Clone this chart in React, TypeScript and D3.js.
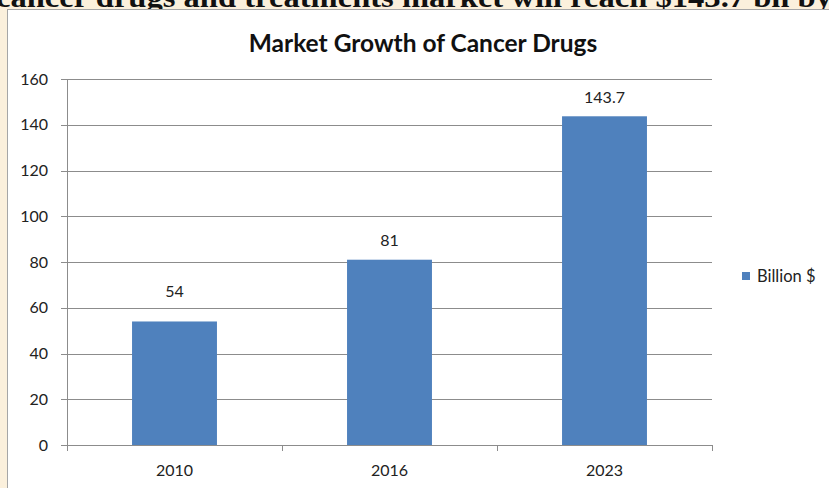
import React from "react";
import * as d3 from "d3";

const categories = ["2010", "2016", "2023"];
const values = [54, 81, 143.7];
const valueLabels = ["54", "81", "143.7"];
const yTicks = [0, 20, 40, 60, 80, 100, 120, 140, 160];
const seriesName = "Billion $";
const title = "Market Growth of Cancer Drugs";
const headline = "cancer drugs and treatments market will reach $143.7 bn by";

export default function App() {
  const W = 829, H = 488;
  const left = 67, right = 712, top = 79, bottom = 445;
  const x = d3.scaleBand<string>().domain(categories).range([left, right]).paddingInner(0.605).paddingOuter(0.3025);
  const y = d3.scaleLinear().domain([0, 160]).range([bottom, top]);
  const font = "Lato, 'Open Sans', sans-serif";
  const bw = 215;
  const tickXs = d3.range(categories.length + 1).map((i) => left + i * bw);
  const labelGap = [24, 14, 13];
  return (
    <svg width={W} height={H} style={{ position: "absolute", left: 0, top: 0 }} fontFamily={font}>
      <rect x={0} y={0} width={W} height={H} fill="#FBF0DC" />
      <text x={-4} y={7} fontFamily="'Liberation Serif', 'DejaVu Serif', serif" fontSize={29} fontWeight="bold" fill="#111" textLength={836} lengthAdjust="spacingAndGlyphs">{headline}</text>
      <rect x={7.5} y={9.5} width={W} height={H} fill="#FFFFFF" stroke="#A6A6A6" strokeWidth={1} />
      <text x={423} y={52} textAnchor="middle" fontSize={24.5} fontWeight="bold" fill="#111">{title}</text>
      {yTicks.map((t) => (
        <g key={t}>
          <line x1={left - 6} x2={right} y1={Math.round(y(t)) + 0.5} y2={Math.round(y(t)) + 0.5} stroke="#8C8C8C" strokeWidth={1} />
          <text x={48} y={y(t) + 5.5} textAnchor="end" fontSize={16} fill="#222">{t}</text>
        </g>
      ))}
      <line x1={left + 0.5} x2={left + 0.5} y1={top} y2={bottom + 5} stroke="#8C8C8C" />
      {tickXs.map((tx, i) => (
        <line key={i} x1={tx + 0.5} x2={tx + 0.5} y1={bottom} y2={bottom + 6} stroke="#8C8C8C" />
      ))}
      {categories.map((c, i) => (
        <g key={c}>
          <rect x={x(c)} y={y(values[i])} width={x.bandwidth()} height={bottom - y(values[i])} fill="#4F81BD" />
          <text x={(x(c) as number) + x.bandwidth() / 2} y={y(values[i]) - labelGap[i]} textAnchor="middle" fontSize={16} fill="#222">{valueLabels[i]}</text>
          <text x={(x(c) as number) + x.bandwidth() / 2} y={476} textAnchor="middle" fontSize={16} fill="#222">{c}</text>
        </g>
      ))}
      <rect x={742} y={272} width={8} height={8} fill="#4F81BD" />
      <text x={757} y={282} fontSize={16.5} fill="#222">{seriesName}</text>
    </svg>
  );
}
